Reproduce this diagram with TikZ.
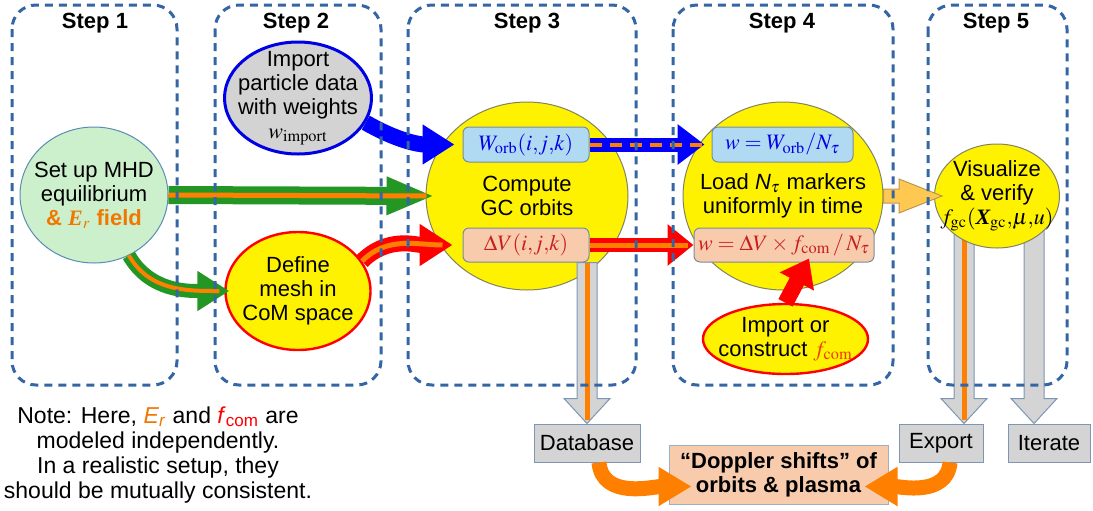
\documentclass[tikz,border=0pt]{standalone}
\usepackage{mathptmx}
\usepackage{amsmath}
\usepackage[no-math]{fontspec}
\setmainfont{Liberation Sans}
\newfontfamily\timesfam{Liberation Serif}
\usepackage{xcolor}
\usepackage{tikz}
\usetikzlibrary{shapes.geometric,arrows.meta,calc,backgrounds}

\definecolor{framecol}{RGB}{52,101,164}
\definecolor{mhdgreen}{RGB}{36,150,36}
\definecolor{mhdfill}{RGB}{204,240,204}
\definecolor{mhdedge}{RGB}{90,140,180}
\definecolor{stripe}{RGB}{255,128,0}
\definecolor{erorange}{RGB}{240,120,0}
\definecolor{wblue}{RGB}{0,0,230}
\definecolor{boxblue}{RGB}{176,218,242}
\definecolor{salmon}{RGB}{248,203,173}
\definecolor{dvred}{RGB}{200,30,30}
\definecolor{fcomred}{RGB}{235,60,0}
\definecolor{boxedge}{RGB}{120,140,160}
\definecolor{boxgray}{RGB}{212,212,212}
\definecolor{grayedge}{RGB}{125,150,180}
\definecolor{impgray}{RGB}{211,211,211}
\definecolor{goldfill}{RGB}{255,200,80}
\definecolor{goldedge}{RGB}{190,150,80}
\definecolor{bubbleedge}{RGB}{130,130,100}

\newcommand{\mainsize}{\fontsize{11}{12}\selectfont}
\newcommand{\notesize}{\fontsize{11.5}{12.5}\selectfont}

\tikzset{
  stepframe/.style={draw=framecol, line width=1.5pt, dash pattern=on 4pt off 3pt, rounded corners=12pt},
  steptitle/.style={font=\mainsize\bfseries},
  bubble/.style={ellipse, inner sep=0pt},
  mhdbubble/.style={bubble, fill=mhdfill, draw=mhdedge, line width=0.5pt},
  impbubble/.style={bubble, fill=impgray, draw=wblue, line width=1.5pt},
  yellowbubble/.style={bubble, fill=yellow, draw=bubbleedge, line width=0.5pt},
  redbubble/.style={bubble, fill=yellow, draw=red, line width=1.2pt},
  mathbox/.style={rectangle, rounded corners=3pt, draw=boxedge, line width=0.5pt, inner sep=0pt},
  bluebox/.style={mathbox, fill=boxblue, text=wblue},
  salmonbox/.style={mathbox, fill=salmon, text=dvred},
  graybox/.style={rectangle, fill=boxgray, draw=grayedge, line width=0.5pt, inner sep=0pt},
  dopbox/.style={rectangle, fill=salmon, draw=boxedge!70, line width=0.5pt, inner sep=0pt, align=center, font=\mainsize\bfseries},
  greenband/.style={draw=mhdgreen, line width=9pt, -{Triangle[length=24pt,width=17.5pt]}},
  redband/.style={draw=red, line width=8pt},
  blueband/.style={draw=blue, line width=8pt},
  orangeband/.style={draw=stripe, line width=7.5pt, -{Triangle[length=16.5pt,width=18.5pt]}},
  orangeline/.style={draw=stripe, line width=2.5pt},
  grayarrow/.style={fill=boxgray, draw=grayedge, line width=0.5pt, line join=miter},
  goldarrow/.style={fill=goldfill, draw=goldedge, line width=0.5pt},
  % block arrows as polygons between two points
  blockdown/.style={to path={
    ($(\tikztostart)+(-10,0)$) -- ($(\tikztotarget)+(-10,25)$) -- ($(\tikztotarget)+(-23,25)$)
    -- (\tikztotarget) -- ($(\tikztotarget)+(23,25)$) -- ($(\tikztotarget)+(10,25)$)
    -- ($(\tikztostart)+(10,0)$) -- cycle}},
  blockright/.style={to path={
    ($(\tikztostart)+(0,7)$) -- ($(\tikztotarget)+(-43,7)$) -- ($(\tikztotarget)+(-43,17)$)
    -- (\tikztotarget) -- ($(\tikztotarget)+(-43,-17)$) -- ($(\tikztotarget)+(-43,-7)$)
    -- ($(\tikztostart)+(0,-7)$) -- cycle}}
}

\begin{document}
\begin{tikzpicture}[x=0.5pt, y=0.5pt, font=\mainsize]
    \useasboundingbox (0,0) rectangle (1093,-510);

    % Steps 1 and 2
    \node[mhdbubble, minimum width=74pt, minimum height=68pt,
      label={[align=center]center:Set up MHD\\equilibrium\\{\color{erorange}\bfseries\& $\text{\timesfam\bfseries\itshape E}_{r}$ field}}] (mhd) at (94,-195) {};
    \node[impbubble, minimum width=73.5pt, minimum height=56pt,
      label={[align=center]center:Import\\particle data\\with weights\\$w_{\mathrm{import}}$}] (imp) at (298,-98) {};
    \node[redbubble, minimum width=72.5pt, minimum height=59pt,
      label={[align=center]center:Define\\mesh in\\CoM space}] (mesh) at (298,-291) {};

    % Step 3
    \node[yellowbubble, minimum width=101pt, minimum height=94pt,
      label={[align=center]center:Compute\\GC orbits}] (gc) at (527,-196) {};
    \node[bluebox, minimum width=63pt, minimum height=17.5pt] (worb) at (526,-144.5) {$W_{\mathrm{orb}}(i{,}j{,}k)$};
    \node[salmonbox, minimum width=63pt, minimum height=17pt] (dv) at (526,-245) {$\Delta V(i{,}j{,}k)$};

    % Step 4
    \node[yellowbubble, minimum width=100pt, minimum height=94pt,
      label={[align=center]center:Load \textit{N}$_{\tau}$ markers\\uniformly in time}] (load) at (783,-196) {};
    \node[bluebox, minimum width=70.5pt, minimum height=17.5pt] (wload) at (782.5,-144.5) {$w = W_{\mathrm{orb}}/N_{\tau}$};
    \node[salmonbox, minimum width=90pt, minimum height=17pt] (wdv) at (784,-245) {$w = \Delta V\times f_{\mathrm{com}}\,/\,N_{\tau}$};
    \node[redbubble, minimum width=82.5pt, minimum height=35pt,
      label={[align=center]center:Import or\\construct {\color{fcomred}$f_{\mathrm{com}}$}}] (fcom) at (785.5,-339) {};

    % Step 5
    \node[yellowbubble, minimum width=62.5pt, minimum height=52pt,
      label={[align=center]center:Visualize\\\& verify\\$f_{\mathrm{gc}}(\text{\timesfam\bfseries\itshape X}_{\mathrm{gc}}{,}\mu{,}u)$}] (vis) at (997,-196) {};

    % outputs
    \node[graybox, minimum width=53pt, minimum height=19pt] (db) at (587,-443) {Database};
    \node[graybox, minimum width=42pt, minimum height=19pt] (exp) at (941,-443) {Export};
    \node[graybox, minimum width=41pt, minimum height=19pt] (itr) at (1049,-443) {Iterate};
    \node[dopbox, minimum width=109.5pt, minimum height=29.5pt] (dop) at (778.5,-474.5) {“Doppler shifts” of\\orbits \& plasma};

    \node[align=center, font=\notesize] (note) at (158,-455) {Note: Here, {\color{erorange}\textit{E}\textsubscript{\textit{r}}} and {\color{red}\textit{f}\textsubscript{com}} are\\modeled independently.\\In a realistic setup, they\\should be mutually consistent.};

    % arrows behind Step 5 bubble
    \begin{scope}[on background layer]
        \coordinate (exptip) at ([xshift=11.5pt]exp.north);
        \coordinate (itrtip) at ([xshift=-7.5pt]itr.north);
        \coordinate (expsrc) at (vis.center -| exptip);
        \coordinate (itrsrc) at (vis.center -| itrtip);
        \draw[grayarrow] (expsrc) to[blockdown] (exptip);
        \draw[orangeline] (expsrc) -- ([yshift=2pt]exptip);
        \draw[grayarrow] (itrsrc) to[blockdown] (itrtip);
    \end{scope}

    % MHD to GC orbits and mesh
    \draw[greenband] (mhd.east) -- ([xshift=4.5pt]gc.west);
    \draw[orangeline, shorten >=4pt] (mhd.east) -- ([xshift=4.5pt]gc.west);
    \draw[greenband, line width=7pt, -{Triangle[length=16pt,width=19pt]}] (mhd.-60) to[out=-60,in=180] ([xshift=2.5pt]mesh.west);
    \draw[orangeline, line width=2pt, shorten >=5pt] (mhd.-60) to[out=-60,in=180] ([xshift=2.5pt]mesh.west);

    % mesh and particle data to GC orbits
    \draw[redband, -{Triangle[length=16.5pt,width=20pt]}] (mesh.25) to[out=45,in=180] ([xshift=-5pt]dv.west);
    \draw[orangeline, shorten >=5pt] (mesh.25) to[out=45,in=180] ([xshift=-5pt]dv.west);
    \draw[blueband, -{Triangle[length=16pt,width=19pt]}] (imp.-20) to[out=-30,in=180] ([xshift=-4pt]worb.west);

    % Step 3 to Step 4
    \draw[blueband, line width=7pt, -{Triangle[length=13.5pt,width=19.5pt]}] (worb.east) -- ([xshift=-3.5pt]wload.west);
    \draw[orangeline, line width=2pt, dash pattern=on 6pt off 4pt, shorten >=1pt] (worb.east) -- ([xshift=-3.5pt]wload.west);
    \draw[redband, line width=7pt, -{Triangle[length=13pt,width=20pt]}] (dv.east) -- (wdv.west);
    \draw[orangeline, shorten >=3pt] (dv.east) -- (wdv.west);
    \draw[redband, -{Triangle[length=13pt,width=18.5pt]}] (fcom.north) -- ([xshift=12.5pt,yshift=2pt]wdv.south);

    % Step 4 to Step 5
    \draw[goldarrow] (load.east) to[blockright] ([xshift=4pt]vis.west);

    % database
    \coordinate (dbtop) at (dv.south -| db.north);
    \draw[grayarrow] (dbtop) to[blockdown] (db.north);
    \draw[orangeline] (dbtop) -- ([yshift=2pt]db.north);

    % to Doppler shifts
    \draw[orangeband] ([xshift=6pt]db.south) to[out=-85,in=180] ([shift={(11.5pt,-6pt)}]dop.west);
    \draw[orangeband] ([xshift=4.5pt]exp.south) to[out=-95,in=0] ([shift={(-12pt,-6pt)}]dop.east);

    % step frames
    \draw[stepframe] (12,-5) rectangle (177,-385);
    \draw[stepframe] (215,-5) rectangle (381,-385);
    \draw[stepframe] (408,-5) rectangle (636,-385);
    \draw[stepframe] (673,-5) rectangle (893,-385);
    \draw[stepframe] (928,-5) rectangle (1067,-385);
    \node[steptitle] (t1) at (95,-23) {Step 1};
    \node[steptitle] (t2) at (296,-23) {Step 2};
    \node[steptitle] (t3) at (527,-23) {Step 3};
    \node[steptitle] (t4) at (782,-23) {Step 4};
    \node[steptitle] (t5) at (996,-23) {Step 5};
\end{tikzpicture}
\end{document}
